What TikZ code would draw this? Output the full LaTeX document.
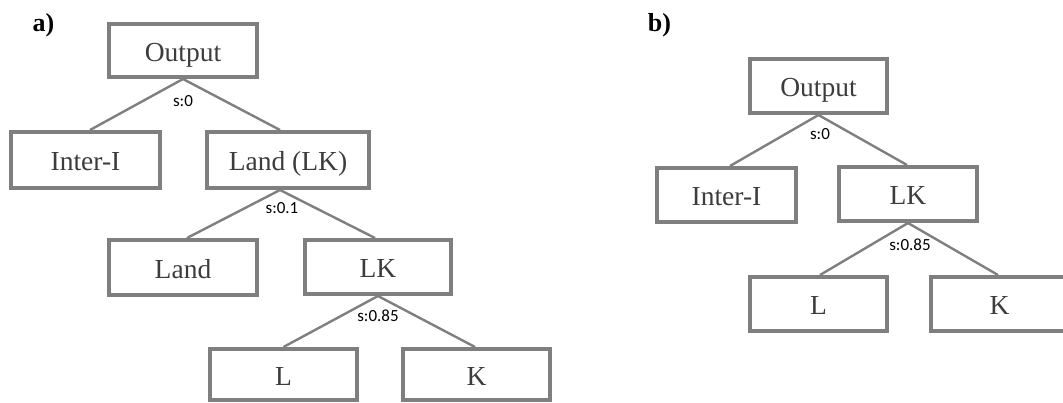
\documentclass[tikz,border=0pt]{standalone}
\usepackage{fontspec}
\setmainfont{Liberation Serif}
\newfontfamily\calibfont{Carlito}
\definecolor{boxgray}{RGB}{127,127,127}
\definecolor{txtgray}{RGB}{60,60,60}
\begin{document}
\begin{tikzpicture}[x=1pt,y=-1pt,
  box/.style={draw=boxgray, line width=4pt, fill=white, inner sep=0pt,
    text=txtgray, font=\fontsize{27.5}{31}\selectfont,
    text height=23pt, text depth=1pt},
  conn/.style={draw=boxgray, line width=2.4pt},
  slabel/.style={font=\calibfont\fontsize{17}{20}\selectfont, text=black, inner sep=0pt},
  panel/.style={font=\bfseries\fontsize{26}{30}\selectfont, inner sep=0pt}]
\useasboundingbox (0,0) rectangle (1063,403);

% panel a
\node[panel] (pa) at (43.5,25) {a)};
\node[box, minimum width=148pt, minimum height=53pt] (outA) at (183,50.5) {Output};
\node[box, minimum width=149pt, minimum height=56pt] (interA) at (85.5,160) {Inter-I};
\node[box, minimum width=162pt, minimum height=56pt] (landlk) at (288,160) {Land (LK)};
\node[box, minimum width=148pt, minimum height=55pt] (land) at (183,267.5) {Land};
\node[box, minimum width=146pt, minimum height=54pt] (lkA) at (378,267) {LK};
\node[box, minimum width=147pt, minimum height=51pt] (lA) at (283.5,374.5) {L};
\node[box, minimum width=147pt, minimum height=51pt] (kA) at (476.5,374.5) {K};

\draw[conn] (outA.south) -- ([xshift=4.5pt]interA.north);
\draw[conn] (outA.south) -- ([xshift=-8pt]landlk.north);
\draw[conn] ([xshift=-8pt]landlk.south) -- ([xshift=4pt]land.north);
\draw[conn] ([xshift=-8pt]landlk.south) -- ([xshift=-3pt]lkA.north);
\draw[conn] (lkA.south) -- (lA.north);
\draw[conn] (lkA.south) -- ([xshift=-1.5pt]kA.north);

\node[slabel] (sa0) at (183,101.5) {s:0};
\node[slabel] (sa1) at (282,208) {s:0.1};
\node[slabel] (sa2) at (378,316) {s:0.85};

% panel b
\node[panel] (pb) at (659.5,25) {b)};
\node[box, minimum width=137pt, minimum height=54pt] (outB) at (818.5,86) {Output};
\node[box, minimum width=139pt, minimum height=54pt] (interB) at (726.5,195) {Inter-I};
\node[box, minimum width=138pt, minimum height=54pt] (lkB) at (908,194) {LK};
\node[box, minimum width=137pt, minimum height=54pt] (lB) at (818.5,304) {L};
\node[box, minimum width=137pt, minimum height=54pt] (kB) at (999.5,304) {K};

\draw[conn] (outB.south) -- ([xshift=3.5pt]interB.north);
\draw[conn] (outB.south) -- ([xshift=-1pt]lkB.north);
\draw[conn] (lkB.south) -- ([xshift=1.5pt]lB.north);
\draw[conn] (lkB.south) -- ([xshift=-1.5pt]kB.north);

\node[slabel] (sb0) at (820,134) {s:0};
\node[slabel] (sb1) at (910,245) {s:0.85};
\end{tikzpicture}
\end{document}
